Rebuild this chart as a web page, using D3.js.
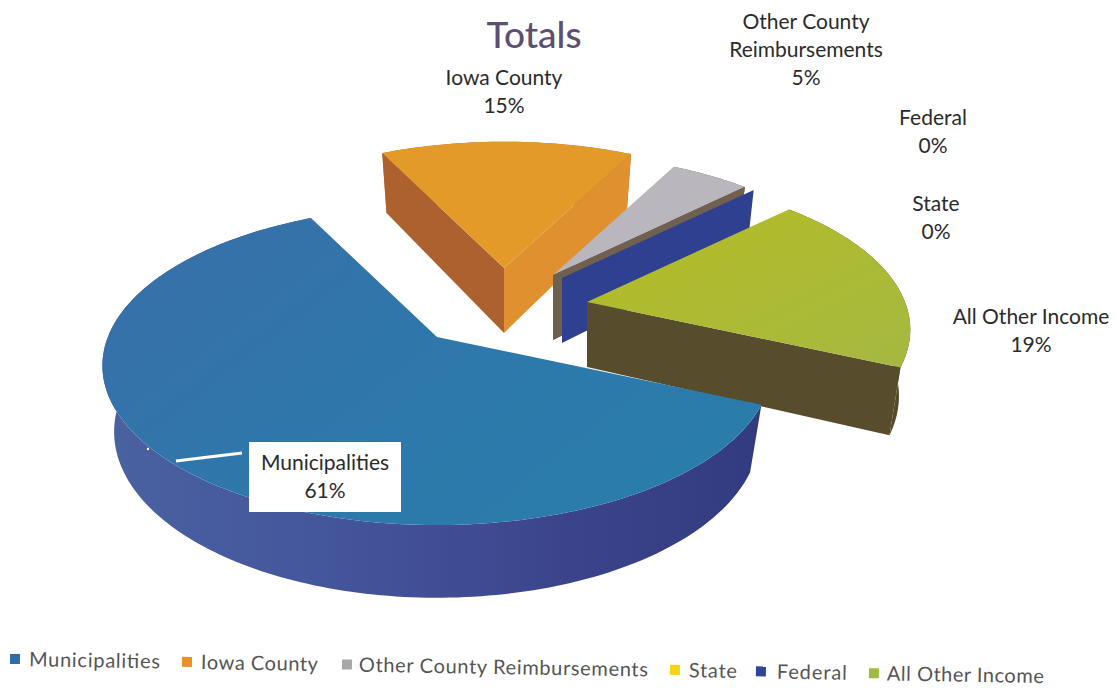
<!DOCTYPE html>
<html>
<head>
<meta charset="utf-8">
<script src="https://cdn.jsdelivr.net/npm/d3@7/dist/d3.min.js"></script>
<style>
  html, body { margin: 0; background: #fff; }
  svg { display: block; font-family: Lato, "Open Sans", sans-serif; }
</style>
</head>
<body>
<svg id="chart" width="1116" height="688"></svg>
<script>
// Income share by source
const categories = ["Municipalities", "Iowa County", "Other County Reimbursements", "State", "Federal", "All Other Income"];
const shares = [61, 15, 5, 0, 0, 19];

// Per-slice colours: top face, wall, start face, end face, legend key
const topColors = ["url(#muniTop)", "#e39a28", "#b9b6bd", "#c9b02a", "#33458f", "url(#greenTop)"];
const wallColors = ["url(#muniWall)", "#c0722f", "#6f6050", "#6f6050", "#2e3f8a", "#554a2a"];
const startFaceColors = ["#3a4a8c", "#ad612f", "#6f6050", "#6f6050", "#2e3f8a", "#554a2a"];
const endFaceColors = ["#3a4a8c", "#e0902f", "#6f6050", "#6f6050", "#2f4090", "#574c2b"];
const legendColors = ["#2f6ea6", "#e8912a", "#a9a6a8", "#f4d313", "#2f4596", "#9dbb3c"];

// Apex of every slice on the page after exploding the pie, and its relative radius
const apexes = [[437, 337], [504, 268], [553, 275], [553, 275], [562, 278], [587, 302]];
const radiusScale = [1.035, 1, 0.95, 0.95, 0.95, 1];
const drawOrder = [1, 2, 3, 4, 5, 0];

const svg = d3.select("#chart");
const defs = svg.append("defs");

function linearGradient(id, x1, y1, x2, y2, stops) {
  const g = defs.append("linearGradient").attr("id", id)
    .attr("x1", x1).attr("y1", y1).attr("x2", x2).attr("y2", y2);
  stops.forEach(([o, c]) => g.append("stop").attr("offset", o).attr("stop-color", c));
}
linearGradient("muniTop", 0, 0, 1, 0.6, [[0, "#3a6ea8"], [0.5, "#2f77ab"], [1, "#2a7cab"]]);
linearGradient("muniWall", 0, 0, 1, 0, [[0, "#4a62a0"], [0.35, "#44559c"], [0.75, "#3a4289"], [1, "#333b80"]]);
linearGradient("greenTop", 0, 0, 1, 1, [[0, "#b4bd22"], [1, "#a6b842"]]);

// Pie angles run clockwise from twelve o'clock
const firstAngle = 114 * Math.PI / 180;
const pie = d3.pie().sort(null).value(d => d).startAngle(firstAngle).endAngle(firstAngle + 2 * Math.PI);
const arcs = pie(shares);

// Tilted-disc projection with foreshortening towards the back
const perspective = d3.scaleLinear().domain([-1, 1]).range([0.82, 1.18]);
const radiusX = 318, radiusY = 149, depth = 65, baseShrink = 0.965;

function project(angle, radius, apex) {
  const x = Math.sin(angle), y = Math.cos(angle);
  const s = perspective(y);
  return [apex[0] + radiusX * radius * x / s, apex[1] - radiusY * radius * y / s];
}
function lower(p, apex, angle, radius) {
  const s = perspective(Math.cos(angle) * radius);
  return [apex[0] + (p[0] - apex[0]) * baseShrink, apex[1] + (p[1] - apex[1]) * baseShrink + depth / s];
}
const line = d3.line().curve(d3.curveLinear);

function rim(a, apex, radius) {
  const n = Math.max(1, Math.ceil((a.endAngle - a.startAngle) / 0.02));
  return d3.range(n + 1).map(i => {
    const t = a.startAngle + (a.endAngle - a.startAngle) * i / n;
    return { angle: t, top: project(t, radius, apex) };
  });
}
function radialFace(angle, apex, radius) {
  const rimTop = project(angle, radius, apex);
  return [apex, rimTop, lower(rimTop, apex, angle, 1), lower(apex, apex, angle, 0)];
}

const slices = svg.append("g").attr("class", "slices");
drawOrder.forEach(i => {
  const a = arcs[i], apex = apexes[i], radius = radiusScale[i];
  const g = slices.append("g").attr("class", "slice");
  const pts = rim(a, apex, radius);
  const hasArea = a.endAngle > a.startAngle;

  if (hasArea) {
    const wall = pts.map(d => d.top).concat(pts.slice().reverse().map(d => lower(d.top, apex, d.angle, 1)));
    g.append("path").attr("d", line(wall) + "Z").attr("fill", wallColors[i]);
    if (Math.sin(a.startAngle) < 0) {
      g.append("path").attr("d", line(radialFace(a.startAngle, apex, radius)) + "Z").attr("fill", startFaceColors[i]);
    }
  }
  if (Math.sin(a.endAngle) > 0) {
    g.append("path").attr("d", line(radialFace(a.endAngle, apex, radius)) + "Z").attr("fill", endFaceColors[i]);
  }
  if (hasArea) {
    g.append("path").attr("d", line([apex].concat(pts.map(d => d.top))) + "Z").attr("fill", topColors[i]);
  }
});

// Title
svg.append("text").attr("x", 534).attr("y", 48).attr("text-anchor", "middle")
  .attr("font-size", 37).attr("font-weight", 500).attr("fill", "#5d4f73").text("Totals");

// Data labels
const labelLines = [
  [`${categories[0]}`, `${shares[0]}%`],
  [`${categories[1]}`, `${shares[1]}%`],
  ["Other County", "Reimbursements", `${shares[2]}%`],
  [`${categories[3]}`, `${shares[3]}%`],
  [`${categories[4]}`, `${shares[4]}%`],
  [`${categories[5]}`, `${shares[5]}%`]
];
const labelAnchors = [[325, 470], [504, 85], [806, 29], [936, 211], [933, 125], [1031, 324]];
const lineHeight = 28;

svg.append("line").attr("x1", 176).attr("y1", 461).attr("x2", 242).attr("y2", 453)
  .attr("stroke", "#fff").attr("stroke-width", 3);
svg.append("circle").attr("cx", 148).attr("cy", 449).attr("r", 1.2).attr("fill", "#fff");
svg.append("rect").attr("x", 249).attr("y", 442).attr("width", 152).attr("height", 70).attr("fill", "#fff");

labelLines.forEach((rows, i) => {
  const t = svg.append("text").attr("text-anchor", "middle").attr("font-size", 21).attr("fill", "#2b2b2b");
  rows.forEach((row, j) => {
    t.append("tspan").attr("x", labelAnchors[i][0]).attr("y", labelAnchors[i][1] + j * lineHeight).text(row);
  });
});

// Legend, one row sloping gently downwards
const legendX = [15, 187, 347, 675, 761, 874];
const legendTextX = [29, 201, 359, 689, 777, 887];
const legendWidths = [131, 117, 289, 48, 70, 157];
const legend = svg.append("g").attr("transform", "rotate(0.95 15 660)");
categories.forEach((name, i) => {
  legend.append("rect").attr("x", legendX[i] - 5).attr("y", 654).attr("width", 10).attr("height", 10).attr("fill", legendColors[i]);
  legend.append("text").attr("x", legendTextX[i]).attr("y", 666).attr("font-size", 20).attr("fill", "#555")
    .attr("textLength", legendWidths[i]).text(name);
});
</script>
</body>
</html>
